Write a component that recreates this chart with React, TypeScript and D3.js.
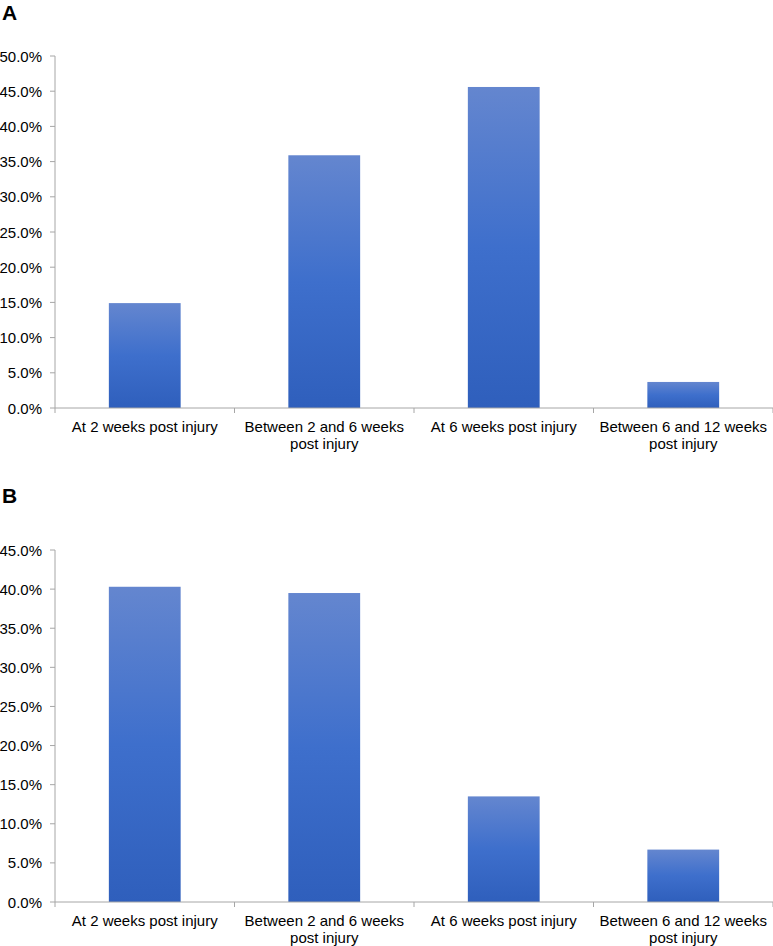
import React from "react";
import * as d3 from "d3";

const categories = [
  "At 2 weeks post injury",
  "Between 2 and 6 weeks post injury",
  "At 6 weeks post injury",
  "Between 6 and 12 weeks post injury",
];
const valuesA = [14.9, 35.9, 45.6, 3.7];
const valuesB = [40.3, 39.5, 13.5, 6.7];
const ticksA = [0, 5, 10, 15, 20, 25, 30, 35, 40, 45, 50];
const ticksB = [0, 5, 10, 15, 20, 25, 30, 35, 40, 45];

function wrap(s: string, max: number): string[] {
  const words = s.split(" ");
  const lines: string[] = [];
  let cur = "";
  for (const w of words) {
    const t = cur ? cur + " " + w : w;
    if (t.length > max && cur) {
      lines.push(cur);
      cur = w;
    } else cur = t;
  }
  if (cur) lines.push(cur);
  return lines;
}

const FONT = "'Liberation Sans', Arial, Helvetica, sans-serif";
const AXIS = "#a6a6a6";

function Panel({ label, values, ticks, top, bottom, labelY, gid }: any) {
  const left = 55;
  const right = 773;
  const x = d3.scaleBand<string>().domain(categories).range([left, right]).paddingInner(0.6).paddingOuter(0.3);
  const y = d3.scaleLinear().domain([0, ticks[ticks.length - 1]]).range([bottom, top]);
  const step = (right - left) / categories.length;
  return (
    <g>
      <text x={2} y={labelY} fontFamily={FONT} fontWeight="bold" fontSize={21} fill="#000" dominantBaseline="central">
        {label}
      </text>
      <line x1={left} x2={left} y1={top} y2={bottom} stroke={AXIS} strokeWidth={1} />
      {ticks.map((t: number) => (
        <g key={t}>
          <line x1={left - 5} x2={left} y1={y(t)} y2={y(t)} stroke={AXIS} />
          <text x={42} y={y(t)} textAnchor="end" dominantBaseline="central" fontFamily={FONT} fontSize={15} fill="#000">
            {t.toFixed(1) + "%"}
          </text>
        </g>
      ))}
      {values.map((v: number, i: number) => (
        <rect key={i} x={x(categories[i])} y={y(v)} width={x.bandwidth()} height={bottom - y(v)} fill={`url(#${gid})`} />
      ))}
      <line x1={left} x2={right} y1={bottom} y2={bottom} stroke={AXIS} />
      {d3.range(categories.length + 1).map((i) => (
        <line key={i} x1={left + i * step} x2={left + i * step} y1={bottom} y2={bottom + 5} stroke={AXIS} />
      ))}
      {categories.map((c, i) => (
        <text key={c} textAnchor="middle" fontFamily={FONT} fontSize={15} fill="#000">
          {wrap(c, 22).map((ln, j) => (
            <tspan key={j} x={left + (i + 0.5) * step} y={bottom + 18 + j * 17.5} dominantBaseline="central">
              {ln}
            </tspan>
          ))}
        </text>
      ))}
    </g>
  );
}

export default function App() {
  return (
    <svg width={773} height={946} style={{ position: "absolute", left: 0, top: 0, background: "#fff" }}>
      <defs>
        {["gA", "gB"].map((id) => (
          <linearGradient key={id} id={id} x1="0" y1="0" x2="0" y2="1" gradientUnits="objectBoundingBox">
            <stop offset="0%" stopColor="#6486cf" />
            <stop offset="50%" stopColor="#3e6fcc" />
            <stop offset="100%" stopColor="#2f5fbc" />
          </linearGradient>
        ))}
      </defs>
      <Panel label="A" values={valuesA} ticks={ticksA} top={56} bottom={408} labelY={12} gid="gA" />
      <Panel label="B" values={valuesB} ticks={ticksB} top={550} bottom={902} labelY={495} gid="gB" />
    </svg>
  );
}
